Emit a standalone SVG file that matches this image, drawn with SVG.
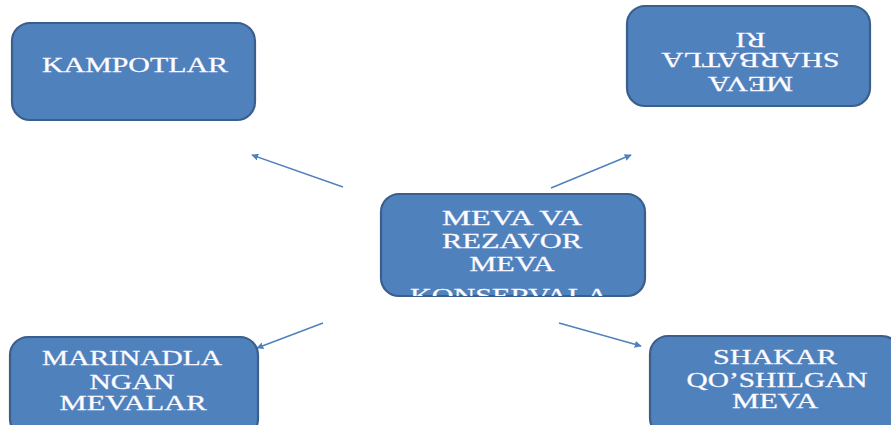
<svg xmlns="http://www.w3.org/2000/svg" width="891" height="425" viewBox="0 0 891 425">
<style>
.box{fill:#4F81BD;stroke:#3A5F8C;stroke-width:2.2}
.t{font-family:"Liberation Serif","Times New Roman",serif;font-size:20px;fill:#FFFFFF;stroke:#F4F0FF;stroke-width:0.3;text-anchor:middle}
.c{stroke:#4F81BD;stroke-width:1.4;fill:none;marker-end:url(#ah)}
</style>
<defs>
<marker id="ah" viewBox="0 0 10 10" refX="9" refY="5" markerWidth="7" markerHeight="7" markerUnits="userSpaceOnUse" orient="auto">
<path d="M0,0 L10,5 L0,10 z" fill="#4F81BD"/>
</marker>
<clipPath id="cc"><rect x="381" y="194" width="264" height="102" rx="18"/></clipPath>
</defs>
<rect width="891" height="425" fill="#FFFFFF"/>
<g id="connectors">
<line class="c" x1="343" y1="187" x2="252" y2="155"/>
<line class="c" x1="551" y1="188" x2="631" y2="155"/>
<line class="c" x1="323" y1="323" x2="257" y2="348"/>
<line class="c" x1="559" y1="323" x2="641" y2="346"/>
</g>
<g id="kampotlar">
<rect class="box" x="12" y="23" width="243" height="97" rx="18"/>
<text class="t" x="135" y="72" textLength="186" lengthAdjust="spacingAndGlyphs">KAMPOTLAR</text>
</g>
<g id="sharbatlari">
<rect class="box" x="627" y="6" width="243" height="100" rx="18"/>
<g transform="rotate(180 748.5 56)">
<text class="t" x="746.5" y="35" textLength="85" lengthAdjust="spacingAndGlyphs">MEVA</text>
<text class="t" x="746.5" y="59" textLength="178" lengthAdjust="spacingAndGlyphs">SHARBATLA</text>
<text class="t" x="746.5" y="79" textLength="30" lengthAdjust="spacingAndGlyphs">RI</text>
</g>
</g>
<g id="center">
<rect class="box" x="381" y="194" width="264" height="102" rx="18"/>
<g clip-path="url(#cc)">
<text class="t" x="512" y="225" textLength="140" lengthAdjust="spacingAndGlyphs">MEVA VA</text>
<text class="t" x="512" y="248" textLength="140" lengthAdjust="spacingAndGlyphs">REZAVOR</text>
<text class="t" x="512" y="271" textLength="85" lengthAdjust="spacingAndGlyphs">MEVA</text>
<text class="t" x="509" y="303" textLength="198" lengthAdjust="spacingAndGlyphs">KONSERVALA</text>
</g>
</g>
<g id="marinadlangan">
<rect class="box" x="10" y="337" width="248" height="100" rx="18"/>
<text class="t" x="132" y="365" textLength="180" lengthAdjust="spacingAndGlyphs">MARINADLA</text>
<text class="t" x="132" y="389" textLength="85" lengthAdjust="spacingAndGlyphs">NGAN</text>
<text class="t" x="133" y="410" textLength="147" lengthAdjust="spacingAndGlyphs">MEVALAR</text>
</g>
<g id="shakar">
<rect class="box" x="650" y="336" width="250" height="100" rx="18"/>
<text class="t" x="775" y="364" textLength="124" lengthAdjust="spacingAndGlyphs">SHAKAR</text>
<text class="t" x="777" y="387" textLength="181" lengthAdjust="spacingAndGlyphs">QO’SHILGAN</text>
<text class="t" x="775" y="408" textLength="86" lengthAdjust="spacingAndGlyphs">MEVA</text>
</g>
</svg>
